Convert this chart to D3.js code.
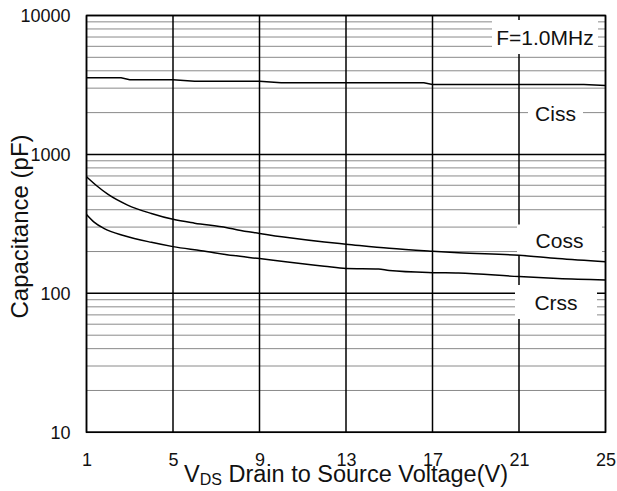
<!DOCTYPE html>
<html>
<head>
<meta charset="utf-8">
<script src="https://cdn.jsdelivr.net/npm/d3@7"></script>
<style>
  html, body { margin: 0; padding: 0; background: #fff; }
  svg { display: block; font-family: "Liberation Sans", Arial, sans-serif; }
</style>
</head>
<body>
<svg id="chart" width="617" height="491"></svg>
<script>
// Capacitance vs. drain-source voltage, F = 1.0 MHz
const xTicks = [1, 5, 9, 13, 17, 21, 25];
const yTicks = [10, 100, 1000, 10000];

const cissV = [1, 2.6, 3, 5, 6, 9, 10, 16.6, 17, 24, 25];
const cissC = [3560, 3560, 3450, 3450, 3370, 3370, 3280, 3280, 3190, 3190, 3135];

const cossV = [1, 1.5, 2, 2.9, 4, 5, 6, 7.5, 8, 9, 10.3, 12, 13, 15, 17, 18.2, 21, 22.8, 25];
const cossC = [691, 590, 515, 432, 376, 341, 320, 297, 286, 270, 252, 234, 226, 211, 201, 196, 188, 178, 169];

const crssV = [1, 1.35, 1.8, 2.75, 4, 5, 6.3, 7.8, 9, 10.3, 12, 13, 14.5, 15, 17, 18.2, 21, 22.8, 25];
const crssC = [370, 326, 294, 260, 233, 217, 203, 187, 178, 168, 157, 151, 150, 146, 141, 140, 132, 128, 125];

const labels = [
  { text: "F=1.0MHz", cx: 545, cy: 37, w: 106, h: 34 },
  { text: "Ciss", cx: 555.5, cy: 113, w: 55, h: 26 },
  { text: "Coss", cx: 559.5, cy: 240, w: 85, h: 31 },
  { text: "Crss", cx: 556, cy: 302, w: 82, h: 34 }
];

const svg = d3.select("#chart");
const L = 86.5, R = 605.5, T = 15.5, B = 432.3;

const x = d3.scaleLinear().domain([1, 25]).range([L, R]);
const y = d3.scaleLog().domain([10, 10000]).range([B, T]);

// minor horizontal grid (2..9 in each decade)
const minor = [];
for (let d = 10; d < 10000; d *= 10) for (let k = 2; k <= 9; k++) minor.push(d * k);
svg.append("g").selectAll("line").data(minor).join("line")
  .attr("x1", L).attr("x2", R)
  .attr("y1", d => y(d)).attr("y2", d => y(d))
  .attr("stroke", "#8a8a8a").attr("stroke-width", 1);

// major grid
svg.append("g").selectAll("line").data(xTicks).join("line")
  .attr("x1", d => x(d)).attr("x2", d => x(d))
  .attr("y1", T).attr("y2", B)
  .attr("stroke", "#000").attr("stroke-width", 1.5);
svg.append("g").selectAll("line").data(yTicks).join("line")
  .attr("x1", L).attr("x2", R)
  .attr("y1", d => y(d)).attr("y2", d => y(d))
  .attr("stroke", "#000").attr("stroke-width", 1.5);

// label backgrounds
const lab = svg.append("g");
lab.selectAll("rect").data(labels).join("rect")
  .attr("x", d => d.cx - d.w / 2).attr("y", d => d.cy - d.h / 2)
  .attr("width", d => d.w).attr("height", d => d.h)
  .attr("fill", "#fff");

// frame
svg.append("rect").attr("x", L).attr("y", T).attr("width", R - L).attr("height", B - T)
  .attr("fill", "none").attr("stroke", "#000").attr("stroke-width", 1.5);

// curves
const series = [
  { v: cissV, c: cissC, curve: d3.curveLinear },
  { v: cossV, c: cossC, curve: d3.curveMonotoneX },
  { v: crssV, c: crssC, curve: d3.curveMonotoneX }
];
series.forEach(s => {
  const line = d3.line().x(d => x(d[0])).y(d => y(d[1])).curve(s.curve);
  svg.append("path").datum(s.v.map((v, i) => [v, s.c[i]]))
    .attr("d", line).attr("fill", "none").attr("stroke", "#000").attr("stroke-width", 1.5);
});

// label text
lab.selectAll("text").data(labels).join("text")
  .attr("x", d => d.cx).attr("y", d => d.cy).attr("dy", "0.36em")
  .attr("text-anchor", "middle").attr("font-size", 21).attr("fill", "#111")
  .text(d => d.text);

// axes (labels only)
const ax = svg.append("g").attr("transform", `translate(0,${B})`)
  .call(d3.axisBottom(x).tickValues(xTicks).tickFormat(d3.format("d")).tickSize(0).tickPadding(21));
const ay = svg.append("g").attr("transform", `translate(${L},0)`)
  .call(d3.axisLeft(y).tickValues(yTicks).tickFormat(d3.format("d")).tickSize(0).tickPadding(16));
[ax, ay].forEach(g => {
  g.select(".domain").remove();
  g.selectAll("text").attr("font-size", 18).attr("font-family", "Liberation Sans, Arial, sans-serif").attr("fill", "#111");
});

// axis titles
const xt = svg.append("text").attr("x", (L + R) / 2).attr("y", 481.5)
  .attr("text-anchor", "middle").attr("font-size", 23.5).attr("fill", "#111");
xt.append("tspan").text("V");
xt.append("tspan").attr("font-size", 16).attr("dy", 3).text("DS");
xt.append("tspan").attr("dy", -3).text(" Drain to Source Voltage(V)");

svg.append("text").attr("transform", "rotate(-90)")
  .attr("x", -226.5).attr("y", 28)
  .attr("text-anchor", "middle").attr("font-size", 24).attr("fill", "#111")
  .text("Capacitance (pF)");
</script>
</body>
</html>
